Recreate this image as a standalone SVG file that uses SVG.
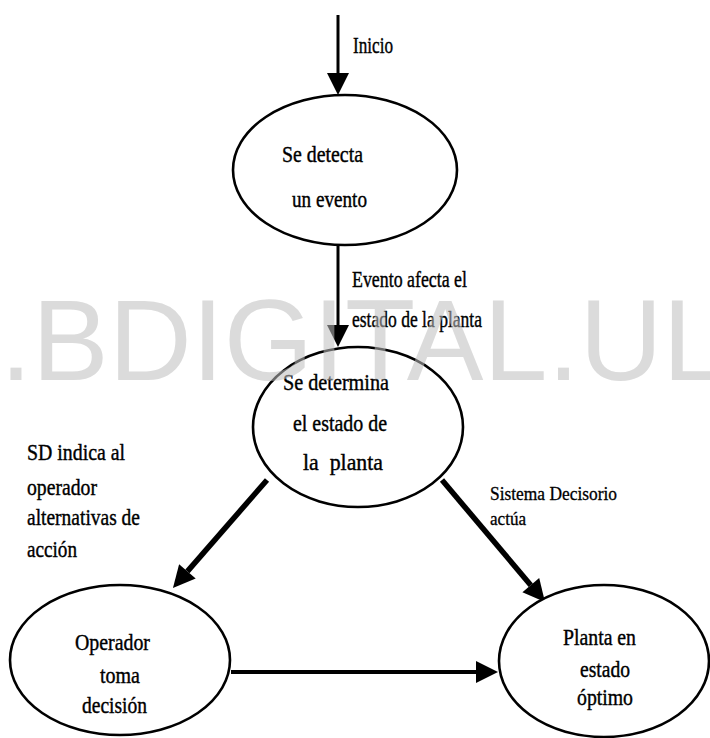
<svg xmlns="http://www.w3.org/2000/svg" width="710" height="738" viewBox="0 0 710 738">
  <style>
    .node ellipse { fill: #fff; stroke: #000; stroke-width: 2.6; }
    text.lbl { font-family: 'Liberation Serif', 'Times New Roman', Times, serif; font-size: 23px; fill: #000; stroke: #000; stroke-width: 0.4; }
    text.sm { font-size: 18px; stroke-width: 0.3; }
    .edge { stroke: #000; fill: none; stroke-linecap: butt; }
    text.wm { font-family: 'Liberation Sans', Arial, sans-serif; font-size: 115px; fill: #bdbdbd; fill-opacity: 0.55; }
  </style>
  <defs>
    <marker id="head" markerUnits="userSpaceOnUse" markerWidth="24" markerHeight="24" refX="0" refY="11" orient="auto" overflow="visible">
      <path d="M0,0 L22,11 L0,22 z" fill="#000"/>
    </marker>
  </defs>

  <rect width="710" height="738" fill="#fff"/>

  <!-- connectors -->
  <g id="connectors">
    <line class="edge" x1="338" y1="15" x2="338" y2="73" stroke-width="3" marker-end="url(#head)"/>
    <line class="edge" x1="338" y1="245" x2="338" y2="325" stroke-width="3" marker-end="url(#head)"/>
    <line class="edge" x1="267" y1="480" x2="187.4" y2="571.4" stroke-width="5.5" marker-end="url(#head)"/>
    <line class="edge" x1="442" y1="480" x2="530.8" y2="585.2" stroke-width="5.5" marker-end="url(#head)"/>
    <line class="edge" x1="231" y1="672" x2="476" y2="672" stroke-width="4" marker-end="url(#head)"/>
  </g>

  <!-- nodes -->
  <g id="detecta" class="node">
    <ellipse cx="345" cy="170" rx="112" ry="75"/>
    <text class="lbl" x="282" y="162" textLength="81" lengthAdjust="spacingAndGlyphs">Se detecta</text>
    <text class="lbl" x="292" y="207" textLength="75" lengthAdjust="spacingAndGlyphs">un evento</text>
  </g>
  <g id="determina" class="node">
    <ellipse cx="358" cy="427" rx="105" ry="80"/>
    <text class="lbl" x="283" y="390" textLength="106" lengthAdjust="spacingAndGlyphs">Se determina</text>
    <text class="lbl" x="293" y="431" textLength="94" lengthAdjust="spacingAndGlyphs">el estado de</text>
    <text class="lbl" x="303" y="470" textLength="80" lengthAdjust="spacingAndGlyphs" xml:space="preserve">la  planta</text>
  </g>
  <g id="operador" class="node">
    <ellipse cx="120" cy="660" rx="110" ry="75"/>
    <text class="lbl" x="75" y="650" textLength="75" lengthAdjust="spacingAndGlyphs">Operador</text>
    <text class="lbl" x="100" y="683" textLength="40" lengthAdjust="spacingAndGlyphs">toma</text>
    <text class="lbl" x="82" y="713" textLength="65" lengthAdjust="spacingAndGlyphs">decisión</text>
  </g>
  <g id="optimo" class="node">
    <ellipse cx="604" cy="661" rx="105" ry="76"/>
    <text class="lbl" x="563" y="645" textLength="73" lengthAdjust="spacingAndGlyphs">Planta en</text>
    <text class="lbl" x="580" y="677" textLength="50" lengthAdjust="spacingAndGlyphs">estado</text>
    <text class="lbl" x="577" y="705" textLength="56" lengthAdjust="spacingAndGlyphs">óptimo</text>
  </g>

  <!-- connector labels -->
  <g id="labels">
    <text class="lbl" x="353" y="53" textLength="40" lengthAdjust="spacingAndGlyphs">Inicio</text>
    <text class="lbl" x="352" y="287" textLength="115" lengthAdjust="spacingAndGlyphs">Evento afecta el</text>
    <text class="lbl" x="352" y="327" textLength="130" lengthAdjust="spacingAndGlyphs">estado de la planta</text>
    <text class="lbl" x="27" y="460" textLength="98" lengthAdjust="spacingAndGlyphs">SD indica al</text>
    <text class="lbl" x="27" y="495" textLength="70" lengthAdjust="spacingAndGlyphs">operador</text>
    <text class="lbl" x="27" y="525" textLength="113" lengthAdjust="spacingAndGlyphs">alternativas de</text>
    <text class="lbl" x="27" y="557" textLength="50" lengthAdjust="spacingAndGlyphs">acción</text>
    <text class="lbl sm" x="490" y="500" textLength="127" lengthAdjust="spacingAndGlyphs">Sistema Decisorio</text>
    <text class="lbl sm" x="490" y="525" textLength="36" lengthAdjust="spacingAndGlyphs">actúa</text>
  </g>

  <!-- overlay mark -->
  <text class="wm" x="0" y="380">.BDIGITAL.UL</text>
</svg>
